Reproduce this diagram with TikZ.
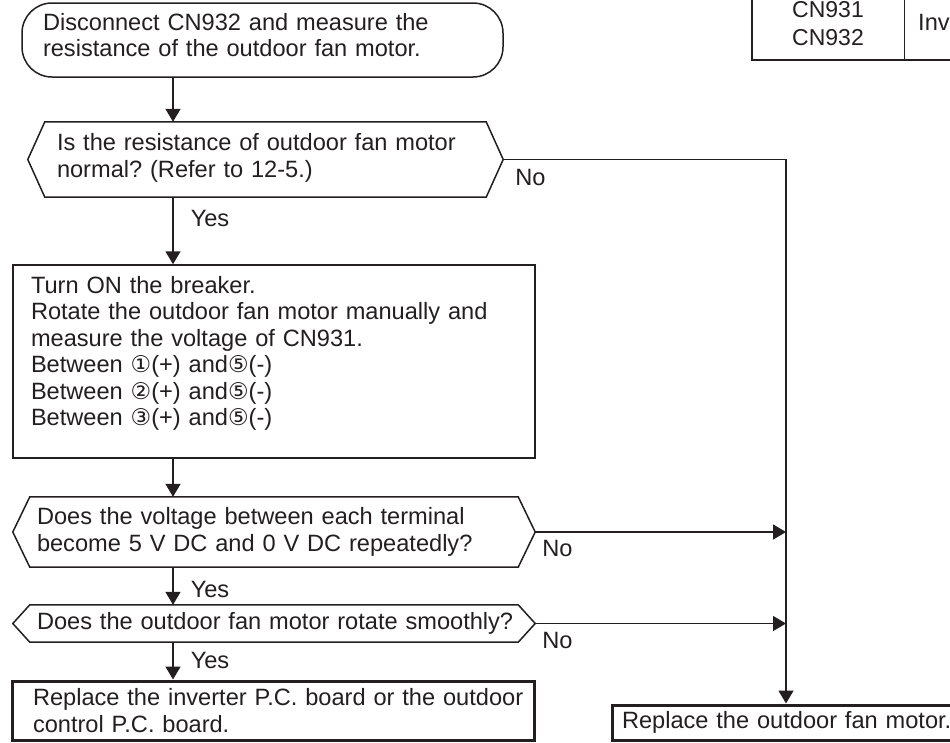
\documentclass[tikz,border=0pt]{standalone}
\usepackage{fontspec}
\setmainfont{Liberation Sans}
\newfontfamily\circfont{DejaVu Sans}
\usepackage{tikz}
\usetikzlibrary{arrows.meta, positioning}
\definecolor{ink}{RGB}{35,31,32}
\frenchspacing
\newcommand{\circnum}[1]{{\circfont\fontsize{23}{23}\selectfont #1}}
% outline of a decision node, #2 = depth of the pointed ends
\newcommand{\hexoutline}[2]{%
    \draw[flowline] (#1.west) -- ([xshift=#2]#1.north west) -- ([xshift=-#2]#1.north east) -- (#1.east)
        -- ([xshift=-#2]#1.south east) -- ([xshift=#2]#1.south west) -- cycle;}

\begin{document}
\begin{tikzpicture}[
        x=1pt, y=-1pt,
        font=\fontsize{23.6}{26.5}\selectfont,
        % Define styles
        flowline/.style={draw=ink, line width=1.5pt},
        bold line/.style={draw=ink, line width=3pt},
        arrow/.style={draw=ink, line width=1.5pt, -{Triangle[width=15pt, length=13pt]}},
        box/.style={rectangle, flowline, text=ink, align=left, inner sep=0pt},
        startbox/.style={box, rounded corners=30pt},
        decision/.style={rectangle, text=ink, align=left, inner sep=0pt},
        result/.style={box, bold line},
        lbl/.style={text=ink, inner sep=0pt}
    ]
        \useasboundingbox (0,0) rectangle (950,742);
        \clip (0,0) rectangle (950,742);

        % --- Corner of the connector table ---
        \draw[bold line, line width=2.5pt] (752,-5) -- (752,60) -- (960,60);
        \draw[flowline, line width=1pt] (904,-5) -- (904,60);
        \node (cnpins) [lbl, align=center, font=\fontsize{23}{28}\selectfont] at (828,23.5) {CN931\\CN932};
        \node (cnuse) [lbl, anchor=west] at (918,22.5) {Inv};

        % --- Main column ---
        \node (start) [startbox, minimum width=481pt, minimum height=74pt, text width=439pt] at (262.5,40)
            {Disconnect CN932 and measure the\\resistance of the outdoor fan motor.\par\vspace*{10pt}};
        \node (q1) [decision, minimum width=475pt, minimum height=75pt, text width=417pt] at (265.5,159.5)
            {Is the resistance of outdoor fan motor\\normal? (Refer to 12-5.)\par\vspace*{3pt}};
        \hexoutline{q1}{17pt}
        \node (check) [box, minimum width=522pt, minimum height=193pt, text width=486pt] at (274,361.5)
            {Turn ON the breaker.\\
             Rotate the outdoor fan motor manually and\\
             measure the voltage of CN931.\\
             Between \circnum{①}(+) and\circnum{⑤}(-)\\
             Between \circnum{②}(+) and\circnum{⑤}(-)\\
             Between \circnum{③}(+) and\circnum{⑤}(-)\par\vspace*{16pt}};
        \node (q2) [decision, minimum width=522pt, minimum height=70pt, text width=474pt] at (274,532)
            {Does the voltage between each terminal\\become 5 V DC and 0 V DC repeatedly?};
        \hexoutline{q2}{17pt}
        \node (q3) [decision, minimum width=522pt, minimum height=37pt, text width=474pt] at (274,623.5)
            {\mbox{Does the outdoor fan motor rotate smoothly?}};
        \hexoutline{q3}{17pt}
        \node (replaceboard) [result, minimum width=522pt, minimum height=59pt, text width=481pt] at (273.5,710.5)
            {\mbox{Replace the inverter P.C. board or the outdoor}\\control P.C. board.};
        \node (replacemotor) [result, minimum width=339pt, minimum height=35pt, text width=319pt] at (781.5,722.5)
            {\mbox{Replace the outdoor fan motor.}};

        % --- Connections ---
        \coordinate (spine) at (173,0);
        \coordinate (rail) at (786,0);
        \draw[arrow] (start.south -| spine) -- (q1.north -| spine);
        \draw[arrow] (q1.south -| spine) -- node[lbl, right=17pt, pos=0.32] (yes1) {Yes} (check.north -| spine);
        \draw[arrow] (check.south -| spine) -- (q2.north -| spine);
        \draw[arrow] (q2.south -| spine) -- node[lbl, right=17pt, pos=0.58] (yes2) {Yes} (q3.north -| spine);
        \draw[arrow] (q3.south -| spine) -- node[lbl, right=17pt, pos=0.5] (yes3) {Yes} (replaceboard.north -| spine);
        \draw[arrow] (q1.east) -- (q1.east -| rail) -- (replacemotor.north -| rail);
        \draw[arrow] (q2.east) -- (q2.east -| rail);
        \draw[arrow] (q3.east) -- (q3.east -| rail);
        \node (no1) [lbl, below right=10pt and 12pt of q1.east] {No};
        \node (no2) [lbl, below right=8pt and 7pt of q2.east] {No};
        \node (no3) [lbl, below right=9pt and 7pt of q3.east] {No};

    \end{tikzpicture}
\end{document}
